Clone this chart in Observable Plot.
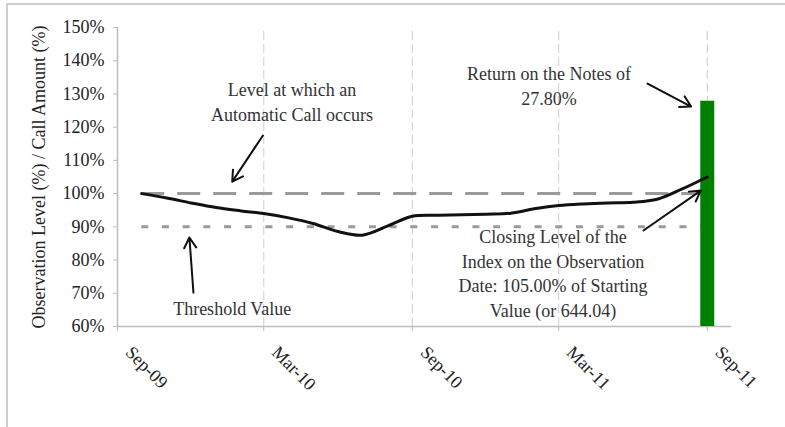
<!DOCTYPE html>
<html>
<head>
<meta charset="utf-8">
<script src="https://cdn.jsdelivr.net/npm/d3@7"></script>
<script src="https://cdn.jsdelivr.net/npm/@observablehq/plot@0.6"></script>
<style>
  body { margin: 0; background: #fff; }
  #wrap { position: relative; width: 785px; height: 427px; overflow: hidden; }
  #border { position: absolute; left: 6px; top: 3px; right: -4px; bottom: -4px;
            border-top: 2px solid #cfcfcf; border-left: 2px solid #cfcfcf; pointer-events: none; }
</style>
</head>
<body>
<div id="wrap"><div id="border"></div></div>
<script>
// ---- data ----
const months = ["2009-10-01","2009-11-01","2009-12-01","2010-01-01","2010-02-01","2010-03-01",
                "2010-04-01","2010-05-01","2010-06-01","2010-07-01","2010-08-01","2010-09-01",
                "2010-10-01","2010-11-01","2010-12-01","2011-01-01","2011-02-01","2011-03-01",
                "2011-04-01","2011-05-01","2011-06-01","2011-07-01","2011-08-01","2011-09-01"];
const levels = [100, 98.7, 97.2, 95.8, 94.8, 94.0, 92.7, 91.0, 88.6, 87.5, 90.2, 93.2,
                93.5, 93.6, 93.8, 94.1, 95.5, 96.4, 96.9, 97.2, 97.4, 98.3, 101.4, 105.0];
const callLevel = 100;
const thresholdLevel = 90;
const returnLevel = 127.8;   // 100% + 27.80% return
const barDate = "2011-09-01";
const yTicks = [60, 70, 80, 90, 100, 110, 120, 130, 140, 150];
const xTickDates = ["2009-09-01","2010-03-01","2010-09-01","2011-03-01","2011-09-01"];
const xTickLabels = ["Sep-09","Mar-10","Sep-10","Mar-11","Sep-11"];
const xDomain = ["2009-09-01","2011-10-01"];
const yLabel = "Observation Level (%) / Call Amount (%)";

// annotations (data coordinates)
const noteText = ["Level at which an\nAutomatic Call occurs",
                  "Return on the Notes of\n27.80%",
                  "Closing Level of the\nIndex on the Observation\nDate: 105.00% of Starting\nValue (or 644.04)",
                  "Threshold Value"];
const noteX = ["2010-04-05","2011-02-17","2011-02-22","2010-01-21"];
const noteY = [128.0, 132.8, 76.4, 65.7];
const arrowX1 = ["2010-02-28","2011-06-19","2011-06-14","2009-12-04"];
const arrowY1 = [117.5, 133.1, 88.9, 70.2];
const arrowX2 = ["2010-01-21","2011-08-12","2011-08-24","2009-11-29"];
const arrowY2 = [103.6, 126.2, 100.9, 86.8];

// ---- build tables ----
const P = d3.utcParse("%Y-%m-%d");
const series = months.map((m, i) => ({date: P(m), value: levels[i]}));
const notes = noteText.map((t, i) => ({text: t, x: P(noteX[i]), y: noteY[i]}));
const arrows = arrowX1.map((d, i) => ({x1: P(d), y1: arrowY1[i], x2: P(arrowX2[i]), y2: arrowY2[i]}));
const xTicks = xTickDates.map(P);
const start = P(months[0]), end = P(months[months.length - 1]);

const chart = Plot.plot({
  width: 785,
  height: 427,
  marginLeft: 117,
  marginRight: 54,
  marginTop: 27,
  marginBottom: 101,
  style: {fontFamily: "'Liberation Serif', 'Times New Roman', serif", fontSize: "18px", color: "#222", background: "#fff", overflow: "visible"},
  x: {type: "utc", domain: xDomain.map(P)},
  y: {domain: [60, 150]},
  marks: [
    // vertical gridlines
    Plot.ruleX(xTicks.slice(1), {y1: 60, y2: 150, stroke: "#d6d6d6", strokeWidth: 1.2, strokeDasharray: "9,4"}),
    // axis lines
    Plot.ruleY([60], {stroke: "#bdbdbd", strokeWidth: 1.5}),
    Plot.ruleX([xTicks[0]], {y1: 60, y2: 150, stroke: "#bdbdbd", strokeWidth: 1.5}),
    // call level & threshold
    Plot.ruleY([callLevel], {x1: start, x2: end, stroke: "#9a9a9a", strokeWidth: 3, strokeDasharray: "23,13"}),
    Plot.ruleY([thresholdLevel], {x1: start, x2: end, stroke: "#9a9a9a", strokeWidth: 3, strokeDasharray: "7,13.7"}),
    // return bar
    Plot.ruleX([P(barDate)], {y1: 60, y2: returnLevel, stroke: "#008000", strokeWidth: 14}),
    // index line
    Plot.line(series, {x: "date", y: "value", curve: "catmull-rom", stroke: "#111", strokeWidth: 3}),
    // axes
    Plot.axisY({ticks: yTicks, tickFormat: d => d + "%", tickSize: 4, tickPadding: 9, stroke: "#bdbdbd", fill: "#222"}),
    Plot.axisX({ticks: xTicks, tickFormat: () => "", tickSize: 5, stroke: "#bdbdbd"}),
    Plot.text(xTicks, {x: d => d, text: (d, i) => xTickLabels[i], frameAnchor: "bottom", rotate: 45,
                       textAnchor: "start", lineAnchor: "bottom", dx: 7, dy: 27, fill: "#222"}),
    Plot.text([yLabel], {text: d => d, frameAnchor: "left", textAnchor: "middle", lineAnchor: "middle",
                         rotate: -90, dx: -78, fill: "#222"}),
    // annotations
    Plot.text(notes, {x: "x", y: "y", text: "text", lineHeight: 1.36, fill: "#333"}),
    Plot.arrow(arrows, {x1: "x1", y1: "y1", x2: "x2", y2: "y2", stroke: "#111", strokeWidth: 2, headLength: 9})
  ]
});
document.getElementById("wrap").prepend(chart);
</script>
</body>
</html>
